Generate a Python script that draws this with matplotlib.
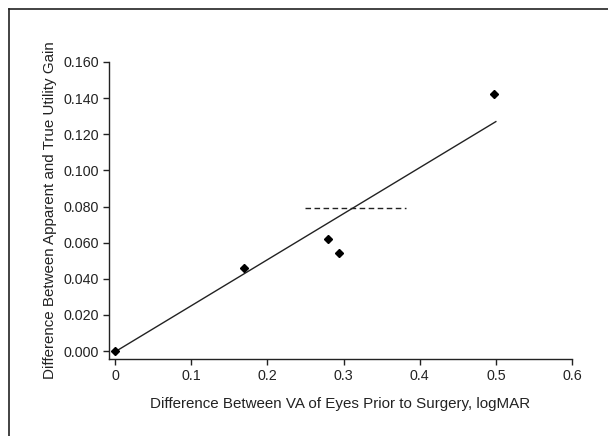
import numpy as np
import matplotlib
matplotlib.use("Agg")
import matplotlib.pyplot as plt
from matplotlib.lines import Line2D
from matplotlib.ticker import FormatStrFormatter

# Data
va_diff = [0.0, 0.169, 0.279, 0.294, 0.498]
utility_diff = [0.0, 0.046, 0.062, 0.054, 0.1424]

fit_x = [0.0, 0.5]
fit_y = [-0.0004, 0.127]

dash_x = [0.250, 0.382]
dash_y = [0.0792, 0.0792]

x_ticks = [0, 0.1, 0.2, 0.3, 0.4, 0.5, 0.6]
x_tick_labels = ["0", "0.1", "0.2", "0.3", "0.4", "0.5", "0.6"]
y_ticks = [0.0, 0.02, 0.04, 0.06, 0.08, 0.10, 0.12, 0.14, 0.16]

plt.rcParams['font.family'] = ['Liberation Sans', 'DejaVu Sans']
ink = '#222222'

fig = plt.figure(figsize=(6.08, 4.36), dpi=100)
ax = fig.add_axes([109 / 608, 1 - 359 / 436, (572 - 109) / 608, (359 - 62) / 436])

ax.plot(fit_x, fit_y, color=ink, lw=1.0)
ax.plot(dash_x, dash_y, color=ink, lw=1.0, linestyle=(0, (4, 2.5)))
ax.plot(va_diff, utility_diff, linestyle='none', marker='D', markersize=4.3,
        color='black')

ax.set_xlim(-0.008, 0.6)
ax.set_ylim(-0.0044, 0.16)
ax.set_xticks(x_ticks)
ax.set_xticklabels(x_tick_labels)
ax.set_yticks(y_ticks)
ax.yaxis.set_major_formatter(FormatStrFormatter('%.3f'))

for side in ['top', 'right']:
    ax.spines[side].set_visible(False)
for side in ['left', 'bottom']:
    ax.spines[side].set_color(ink)
    ax.spines[side].set_linewidth(1.0)
ax.spines['left'].set_bounds(-0.0044, 0.16)
ax.spines['bottom'].set_bounds(-0.008, 0.6)

ax.tick_params(direction='out', length=4, width=1.0, color=ink,
               labelsize=10.3, labelcolor=ink, pad=3)

ax.set_xlabel('Difference Between VA of Eyes Prior to Surgery, logMAR',
              fontsize=10.9, color=ink, labelpad=10)
ax.set_ylabel('Difference Between Apparent and True Utility Gain',
              fontsize=10.9, color=ink, labelpad=5)

# outer frame (top and left edges)
fig.add_artist(Line2D([9 / 608, 1.0], [1 - 9 / 436, 1 - 9 / 436],
                      transform=fig.transFigure, color=ink, lw=1.2))
fig.add_artist(Line2D([9 / 608, 9 / 608], [0.0, 1 - 9 / 436],
                      transform=fig.transFigure, color=ink, lw=1.2))

fig.savefig('out.png', dpi=100)
